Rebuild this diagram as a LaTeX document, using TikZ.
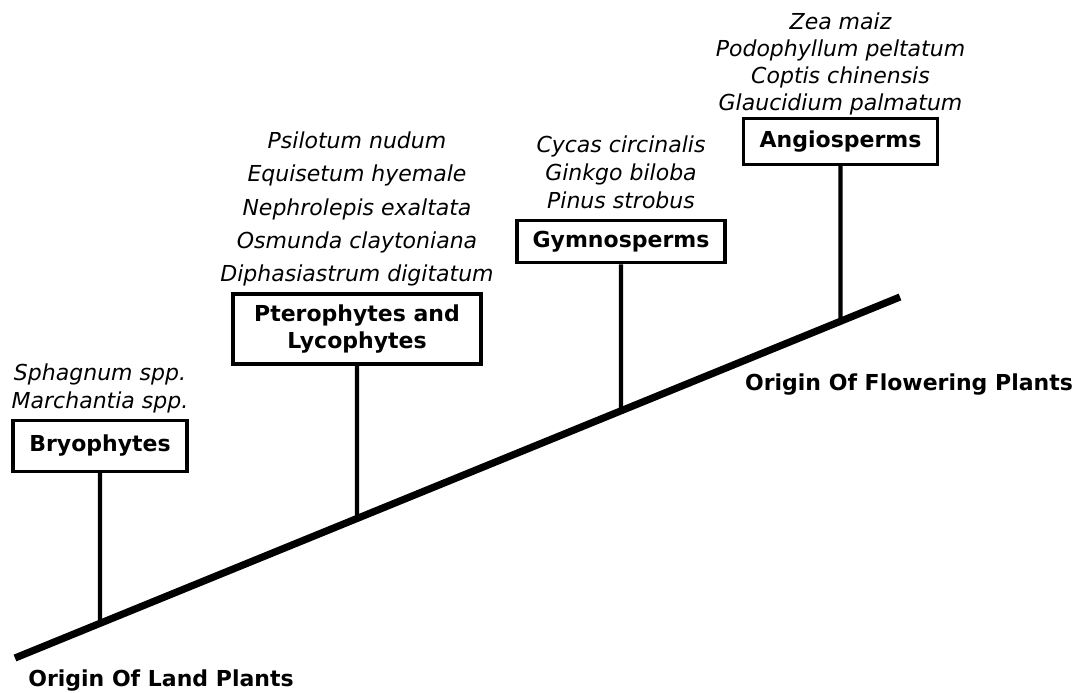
\documentclass[tikz,border=0pt]{standalone}
\usepackage{fontspec}
\setmainfont{DejaVu Sans}
\usetikzlibrary{positioning, calc}

\tikzset{
  taxon/.style={draw, line width=2.4pt, fill=white, align=center, inner xsep=4pt, inner ysep=0pt,
    font=\fontsize{16.5}{20}\selectfont\bfseries},
  species/.style={align=center, inner sep=0pt, font=\fontsize{16.5}{21}\selectfont\itshape},
  origin/.style={inner sep=0pt, font=\fontsize{16.5}{20}\selectfont\bfseries},
  stem/.style={line width=3.2pt},
  trunk/.style={line width=5.4pt}
}

\begin{document}
\begin{tikzpicture}[x=0.75pt, y=-0.75pt]
    \useasboundingbox (0,0) rectangle (1077,692);
    % Main line
    \coordinate (landO) at (15,658);
    \coordinate (flowerO) at (900,297);
    \draw[trunk] (landO) -- (flowerO);
    \node[origin] (landL) at (161,681) {Origin Of Land Plants};
    \node[origin] (flowerL) at (909,385) {Origin Of Flowering Plants};
    % Bryophytes
    \node[taxon, minimum width=130.5pt, minimum height=38pt] (bryo) at (100,446) {Bryophytes};
    \node[species] (bryoS) at (100,388) {Sphagnum spp.\\Marchantia spp.};
    % Pterophytes and Lycophytes
    \node[taxon, minimum width=186pt, minimum height=52.5pt] (ptero) at (357,329) {Pterophytes and\\Lycophytes};
    \node[species, font=\fontsize{16.5}{25}\selectfont\itshape] (pteroS) at (357,209)
      {Psilotum nudum\\Equisetum hyemale\\Nephrolepis exaltata\\Osmunda claytoniana\\Diphasiastrum digitatum};
    % Gymnosperms
    \node[taxon, minimum width=156pt, minimum height=32pt] (gymno) at (621,241.5) {Gymnosperms};
    \node[species] (gymnoS) at (621,172) {Cycas circinalis\\Ginkgo biloba\\Pinus strobus};
    % Angiosperms
    \node[taxon, minimum width=146pt, minimum height=34pt] (angio) at (840.5,141.5) {Angiosperms};
    \node[species, font=\fontsize{16.5}{20.25}\selectfont\itshape] (angioS) at (840.5,64)
      {Zea maiz\\Podophyllum peltatum\\Coptis chinensis\\Glaucidium palmatum};
    % Stems down to the main line
    \foreach \t in {bryo, ptero, gymno, angio}
      \draw[stem] (\t.south) -- (intersection cs: first line={(\t.south)--($(\t.south)+(0,400)$)},
                                 second line={(landO)--(flowerO)});
\end{tikzpicture}
\end{document}
